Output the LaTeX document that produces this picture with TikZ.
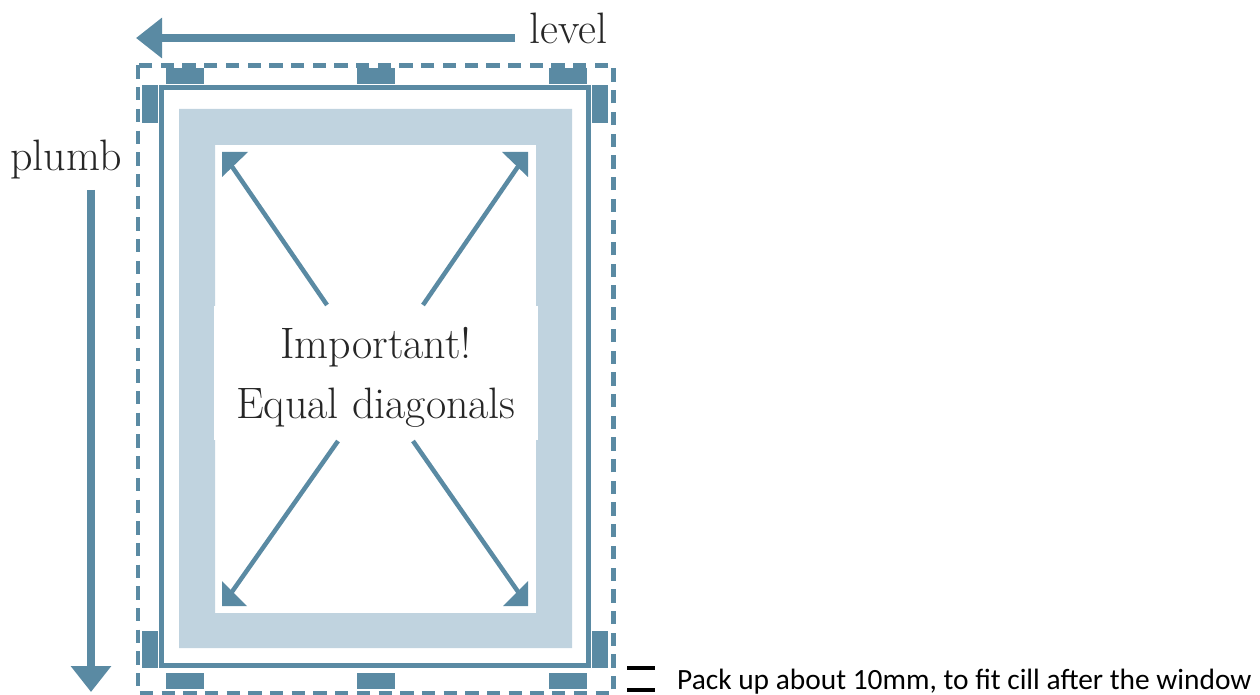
\documentclass[tikz,border=0pt]{standalone}
\usepackage{fontspec}
\usepackage{tikz}
\usetikzlibrary{arrows.meta}
\newfontfamily\notefont{Carlito}
\definecolor{steel}{HTML}{5A8AA3}
\definecolor{pale}{HTML}{C0D3DF}
\begin{document}
\begin{tikzpicture}[x=1pt,y=-1pt,
  shim/.style={fill=steel},
  bigarrow/.style={draw=steel,line width=8pt,-{Triangle[length=26pt,width=39pt]}},
  diagonal/.style={draw=steel,line width=4.5pt,shorten >=8pt},
  word/.style={font=\fontsize{44}{52}\selectfont,inner sep=0pt,text=black!85}]
\useasboundingbox (0,0) rectangle (1260,695);
% lining
\draw [steel,line width=4.5pt,dash pattern=on 13.3pt off 8.4pt] (138,65.5) rectangle (613.5,693);
\fill [pale,even odd rule] (179,109) rectangle (572,648) (215,145) rectangle (536,613);
\draw [steel,line width=5pt] (161.5,87.5) rectangle (588.5,665.5);
% packers
\foreach \x in {166,357,549} {
  \fill [shim] (\x,68) rectangle ++(37.5,16.5);
  \fill [shim] (\x,672.5) rectangle ++(37.5,16);
}
\foreach \x in {142,591.5} {
  \fill [shim] (\x,85) rectangle ++(16,38);
  \fill [shim] (\x,631) rectangle ++(16,37);
}
% centre text
\node [fill=white,inner sep=0pt,minimum width=324pt,minimum height=134pt] (note) at (376,373) {};
\node [word,align=center,font=\fontsize{44}{60}\selectfont] (notetext) at ([yshift=-4pt]note.center)
  {Important!\\Equal diagonals};
\coordinate (tl) at (222,152);
\coordinate (tr) at (528,152);
\coordinate (bl) at (222,606);
\coordinate (br) at (528,606);
\coordinate (tls) at (327,305);
\coordinate (trs) at (423,305);
\coordinate (bls) at (338,441);
\coordinate (brs) at (413,441);
\draw [diagonal] (tls) -- (tl);
\draw [diagonal] (trs) -- (tr);
\draw [diagonal] (bls) -- (bl);
\draw [diagonal] (brs) -- (br);
\fill [steel] (tl) -- ++(26,0) -- ++(-26,25) -- cycle;
\fill [steel] (tr) -- ++(-26,0) -- ++(26,25) -- cycle;
\fill [steel] (bl) -- ++(25,0) -- ++(-25,-25) -- cycle;
\fill [steel] (br) -- ++(-25,0) -- ++(25,-25) -- cycle;
% level and plumb
\node [word,anchor=base west] (level) at (529,44) {level};
\node [word,anchor=base west] (plumb) at (10,171) {plumb};
\coordinate (levelend) at (136,38);
\coordinate (plumbtop) at (91,190);
\coordinate (plumbend) at (91,692);
\draw [bigarrow] (level.west |- levelend) ++(-14,0) -- (levelend);
\draw [bigarrow] (plumbtop) -- (plumbend);
% packing note
\coordinate (packa) at (627,668);
\coordinate (packb) at (627,690);
\draw [black,line width=3.7pt] (packa) -- ++(28,0);
\draw [black,line width=3.7pt] (packb) -- ++(28,0);
\node [anchor=base west,inner sep=0pt,font=\notefont\fontsize{29.4}{34}\selectfont] (pack) at (677,689)
  {Pack up about 10mm, to fit cill after the window};
\end{tikzpicture}
\end{document}
